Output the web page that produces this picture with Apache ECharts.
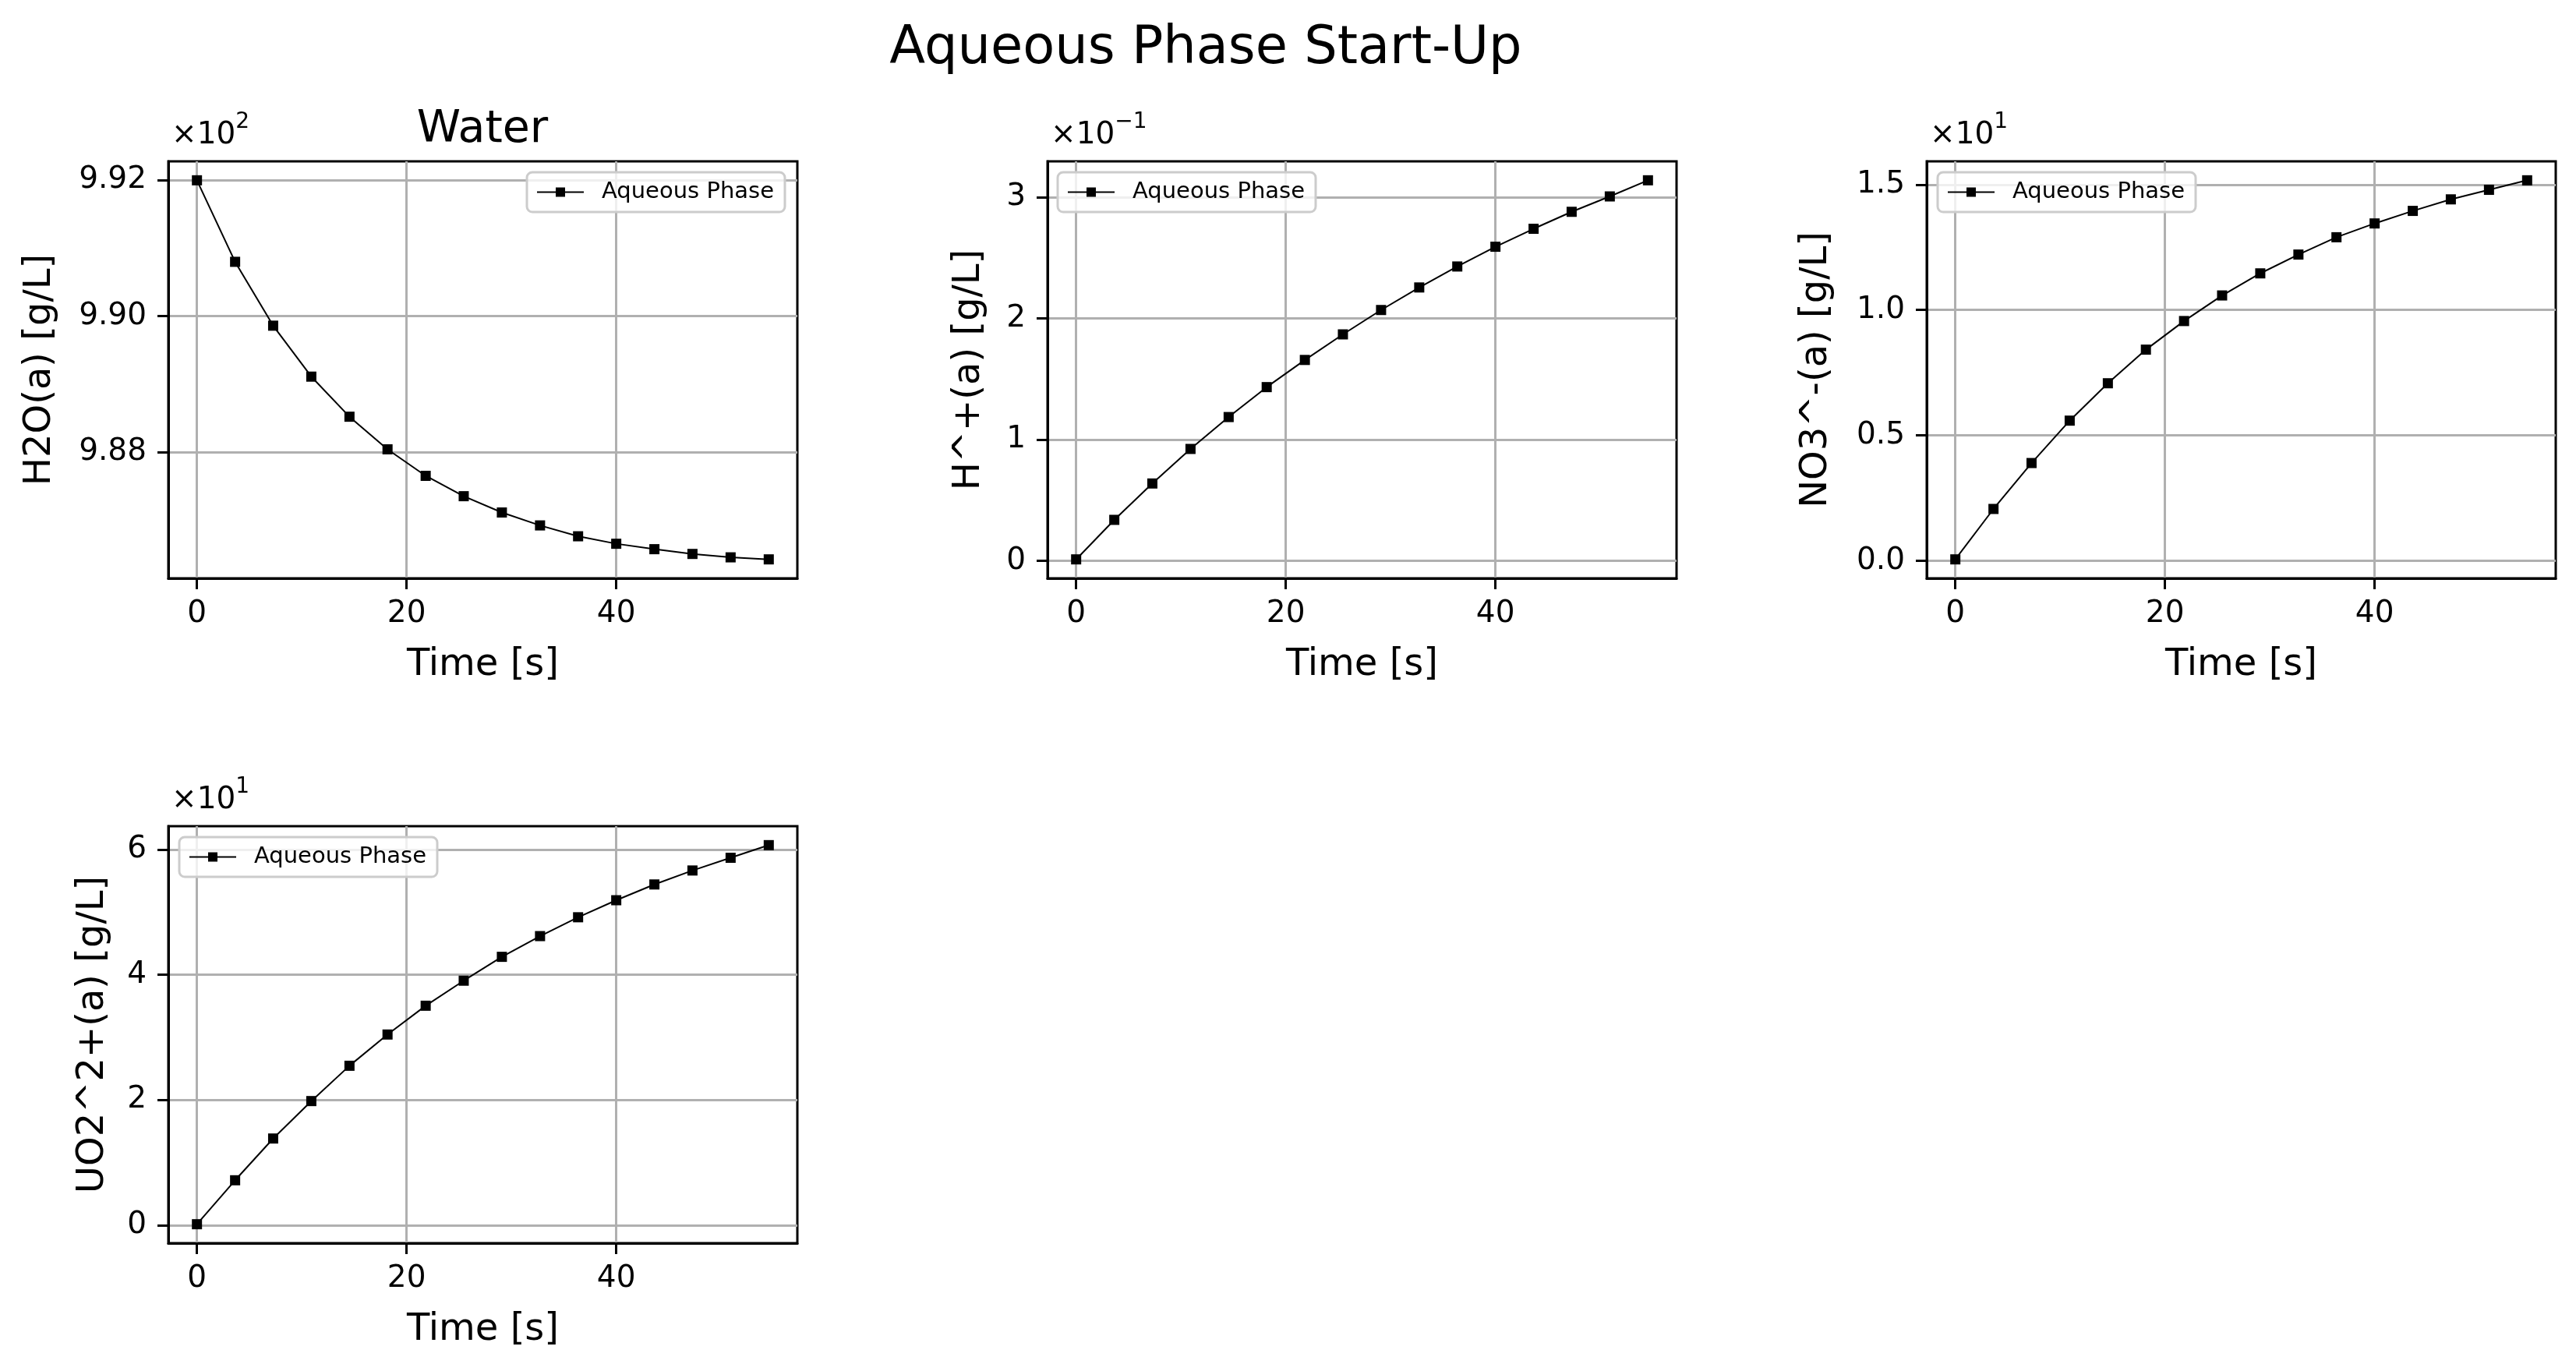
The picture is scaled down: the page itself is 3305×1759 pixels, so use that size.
<!DOCTYPE html>
<html>
<head>
<meta charset="utf-8">
<script src="https://cdn.jsdelivr.net/npm/echarts@6/dist/echarts.min.js"></script>
<style>
  html, body { margin: 0; padding: 0; background: #fff; }
  #chart { width: 3305px; height: 1759px; }
</style>
</head>
<body>
<div id="chart"></div>
<script>
// time points [s]
const timeSec = [0, 3.64, 7.27, 10.91, 14.55, 18.18, 21.82, 25.45, 29.09, 32.73, 36.36, 40.0, 43.64, 47.27, 50.91, 54.55];

// concentrations [g/L]
const h2o = [992.00, 990.80, 989.86, 989.11, 988.52, 988.04, 987.65, 987.35, 987.11, 986.92, 986.76, 986.65, 986.57, 986.50, 986.45, 986.42];
const hPlus = [0.0013, 0.0339, 0.0639, 0.0924, 0.1187, 0.1434, 0.1658, 0.1869, 0.2070, 0.2256, 0.2429, 0.2592, 0.2740, 0.2880, 0.3007, 0.3140];
const no3 = [0.06, 2.07, 3.90, 5.59, 7.08, 8.42, 9.56, 10.58, 11.46, 12.21, 12.90, 13.45, 13.95, 14.41, 14.79, 15.17];
const uo2 = [0.15, 7.17, 13.84, 19.82, 25.46, 30.45, 35.05, 39.05, 42.86, 46.17, 49.18, 51.90, 54.42, 56.65, 58.68, 60.70];

// tick labels
const xTicks = [0, 20, 40];
const h2oTicks = [988, 990, 992];
const hPlusTicks = [0, 0.1, 0.2, 0.3];
const no3Ticks = [0, 5, 10, 15];
const uo2Ticks = [0, 20, 40, 60];

const seriesName = 'Aqueous Phase';
const FONT = 'DejaVu Sans';

// matplotlib style 5% margins
function padRange(arr) {
  const lo = Math.min(...arr), hi = Math.max(...arr);
  const m = (hi - lo) * 0.05;
  return [lo - m, hi + m];
}

const W = 807, H = 535;
const panels = [
  { data: h2o, ticks: h2oTicks, fmt: v => (v / 100).toFixed(2), yName: 'H2O(a) [g/L]', exp: '2',
    left: 216, top: 207, nameGap: 140, legend: { right: 3305 - 1007 } },
  { data: hPlus, ticks: hPlusTicks, fmt: v => String(Math.round(v * 10)), yName: 'H^+(a) [g/L]', exp: '−1',
    left: 1344, top: 207, nameGap: 76, legend: { left: 1357 } },
  { data: no3, ticks: no3Ticks, fmt: v => (v / 10).toFixed(1), yName: 'NO3^-(a) [g/L]', exp: '1',
    left: 2472, top: 207, nameGap: 117, legend: { left: 2486 } },
  { data: uo2, ticks: uo2Ticks, fmt: v => String(Math.round(v / 10)), yName: 'UO2^2+(a) [g/L]', exp: '1',
    left: 216, top: 1060, nameGap: 72, legend: { left: 230 } }
];

const xRange = padRange(timeSec);
const grid = [], xAxis = [], yAxis = [], series = [], legend = [], graphic = [];

panels.forEach((p, i) => {
  const yRange = padRange(p.data);
  grid.push({ left: p.left, top: p.top, width: W, height: H, show: true, borderColor: '#000', borderWidth: 3, backgroundColor: 'transparent' });
  xAxis.push({
    type: 'value', gridIndex: i, min: xRange[0], max: xRange[1], splitNumber: 3,
    name: 'Time [s]', nameLocation: 'middle', nameGap: 88,
    nameTextStyle: { fontFamily: FONT, fontSize: 48, color: '#000' },
    axisLine: { show: true, onZero: false, lineStyle: { color: '#000', width: 3 } },
    axisTick: { show: true, length: 14, lineStyle: { color: '#000', width: 3 }, customValues: xTicks },
    axisLabel: { customValues: xTicks, margin: 26, fontFamily: FONT, fontSize: 39, color: '#000', formatter: v => String(Math.round(v)) },
    splitLine: { show: true, lineStyle: { color: '#b0b0b0', width: 3 } }
  });
  yAxis.push({
    type: 'value', gridIndex: i, min: yRange[0], max: yRange[1], splitNumber: 3,
    name: p.yName, nameLocation: 'middle', nameRotate: 90, nameGap: p.nameGap,
    nameTextStyle: { fontFamily: FONT, fontSize: 48, color: '#000' },
    axisLine: { show: true, onZero: false, lineStyle: { color: '#000', width: 3 } },
    axisTick: { show: true, length: 14, lineStyle: { color: '#000', width: 3 }, customValues: p.ticks },
    axisLabel: { customValues: p.ticks, margin: 28, fontFamily: FONT, fontSize: 39, color: '#000', formatter: p.fmt },
    splitLine: { show: true, lineStyle: { color: '#b0b0b0', width: 3 } }
  });
  series.push({
    name: seriesName, type: 'line', xAxisIndex: i, yAxisIndex: i,
    data: timeSec.map((t, k) => [t, p.data[k]]),
    symbol: 'rect', symbolSize: 13,
    lineStyle: { color: '#000', width: 2 },
    itemStyle: { color: '#000' },
    z: 5
  });
  legend.push(Object.assign({
    top: p.top + 14, data: [seriesName], selectedMode: false,
    itemWidth: 60, itemHeight: 15,
    padding: [11, 14, 11, 12],
    backgroundColor: 'rgba(255,255,255,0.8)', borderColor: '#cccccc', borderWidth: 3, borderRadius: 7,
    textStyle: { fontFamily: FONT, fontSize: 29, color: '#000', padding: [0, 0, 0, 18] }
  }, p.legend));
  // offset text, e.g. x10^2
  graphic.push({
    type: 'text', x: p.left + 4, y: p.top - 14,
    style: {
      text: '{b|×10}{s|' + p.exp + '}',
      textAlign: 'left', textVerticalAlign: 'bottom',
      rich: {
        b: { fontFamily: FONT, fontSize: 39, fill: '#000', color: '#000', lineHeight: 50, verticalAlign: 'bottom' },
        s: { fontFamily: FONT, fontSize: 28, fill: '#000', color: '#000', lineHeight: 50, verticalAlign: 'top' }
      }
    }
  });
});

graphic.push({
  type: 'text', x: 1547, y: 64,
  style: { text: 'Aqueous Phase Start-Up', font: '67px "DejaVu Sans"', fill: '#000', textAlign: 'center', textVerticalAlign: 'middle' }
});
graphic.push({
  type: 'text', x: 619, y: 167,
  style: { text: 'Water', font: '57px "DejaVu Sans"', fill: '#000', textAlign: 'center', textVerticalAlign: 'middle' }
});

const chart = echarts.init(document.getElementById('chart'), null, { renderer: 'canvas' });
chart.setOption({
  backgroundColor: '#ffffff',
  animation: false,
  grid, xAxis, yAxis, series, legend, graphic
});
</script>
</body>
</html>
